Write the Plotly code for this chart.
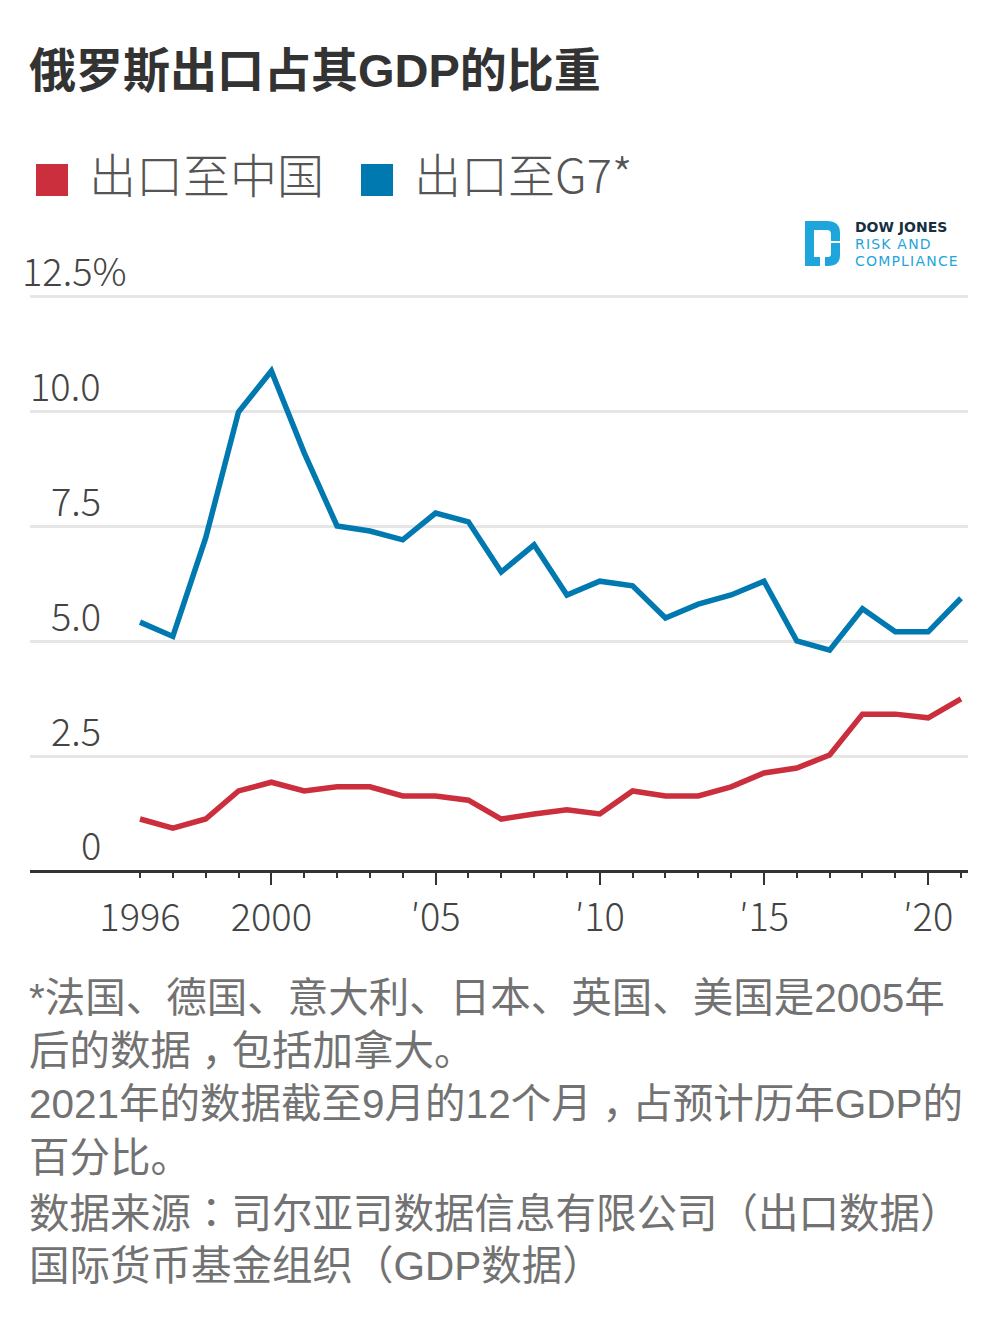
import plotly.graph_objects as go

WIDTH = 999
HEIGHT = 1330

years = list(range(1996, 2022))
china = [1.13, 0.93, 1.13, 1.74, 1.93, 1.74, 1.83, 1.83, 1.63, 1.63, 1.54, 1.13, 1.24,
         1.33, 1.24, 1.74, 1.63, 1.63, 1.83, 2.13, 2.24, 2.52, 3.41, 3.41, 3.33, 3.74]
g7 = [5.41, 5.1, 7.24, 9.98, 10.87, 9.09, 7.5, 7.39, 7.2, 7.78, 7.59, 6.5, 7.09,
      6.0, 6.3, 6.2, 5.5, 5.8, 6.0, 6.3, 5.0, 4.8, 5.7, 5.2, 5.2, 5.93]

y_ticks = [2.5, 5, 7.5, 10, 12.5]
y_labels = ['2.5', '5.0', '7.5', '10.0', '12.5%']
x_labels = {1996: '1996', 2000: '2000', 2005: "\u203205", 2010: "\u203210", 2015: "\u203215", 2020: "\u203220"}
long_ticks = [2000, 2005, 2010, 2015, 2020]

title = '俄罗斯出口占其GDP的比重'
legend_names = ['出口至中国', '出口至G7*']
footnotes = [
    '*法国、德国、意大利、日本、英国、美国是2005年',
    '后的数据，包括加拿大。',
    '2021年的数据截至9月的12个月，占预计历年GDP的',
    '百分比。',
    '数据来源：司尔亚司数据信息有限公司（出口数据）',
    '国际货币基金组织（GDP数据）',
]
footnote_y = [998, 1051, 1104, 1158, 1213, 1266]

RED = '#cb2f3d'
BLUE = '#0079b0'
CJK = 'Liberation Sans, Noto Sans CJK SC, sans-serif'
LIGHT = 'Noto Sans CJK SC, sans-serif'
LOGO = 'DejaVu Sans, sans-serif'


def px_x(x):
    return x / WIDTH


def px_y(y):
    return 1 - y / HEIGHT


def label(text, x, y, size, color, anchor='left', family=CJK, weight=None):
    font = dict(family=family, size=size, color=color)
    if weight:
        font['weight'] = weight
    return dict(text=text, x=px_x(x), y=px_y(y), xref='paper', yref='paper', xanchor=anchor,
                yanchor='middle', showarrow=False, font=font)


def logo_path(points):
    return ' '.join(f'{c} {px_x(x):.5f},{px_y(y):.5f}' if c != 'Q' else
                    f'Q {px_x(x[0]):.5f},{px_y(x[1]):.5f} {px_x(y[0]):.5f},{px_y(y[1]):.5f}'
                    for c, x, y in points) + ' Z'


def centred_punct(text):
    # the reference has these two marks in the middle of their cell, the comma sits low
    text = text.replace('，', '<span style="font-family:\'Noto Sans CJK TC\';baseline-shift:-0.3em">，</span>')
    text = text.replace('：', '<span style="font-family:\'Noto Sans CJK TC\'">：</span>')
    return text


fig = go.Figure()
fig.add_trace(go.Scatter(x=years, y=china, mode='lines', name=legend_names[0],
                         line=dict(color=RED, width=5.5, shape='linear')))
fig.add_trace(go.Scatter(x=years, y=g7, mode='lines', name=legend_names[1],
                         line=dict(color=BLUE, width=5.5, shape='linear')))

annotations = [label(title, 27, 71, 47, '#333333', weight='bold')]
annotations.append(label(legend_names[0], 87, 172, 47, '#555555', family=LIGHT, weight=300))
annotations.append(label(legend_names[1], 412, 172, 47, '#555555', family=LIGHT, weight=300))

# x range set so that 1996 lands at 140px and 2021 at 961px inside the 30-968 plot area
px_per_year = (961 - 140) / 25
x_min = 1996 - (140 - 30) / px_per_year
x_max = 2021 + (968 - 961) / px_per_year

# y scale is 46px per unit with zero at 871px; top of range goes past 12.5 so its gridline shows
px_per_unit = 46
plot_bottom = 869.5
y_min = (871 - plot_bottom) / px_per_unit
y_max = 13

# y labels sit on top of the gridlines
for v, t in zip(y_ticks + [0], y_labels + ['0']):
    annotations.append(dict(text=t, x=px_x(129 if '%' in t else 103), y=max(v, y_min), xref='paper', yref='y',
                            xanchor='right', yanchor='bottom', yshift=-3, showarrow=False,
                            font=dict(family=LIGHT, size=38, color='#444444', weight=300)))

spaced = '<span style="letter-spacing:1.2px">%s</span>'
annotations.append(label('DOW JONES', 853, 227, 14, '#16303f', family=LOGO, weight='bold'))
annotations.append(label(spaced % 'RISK AND', 853, 244, 14, '#1ea5dc', family=LOGO))
annotations.append(label(spaced % 'COMPLIANCE', 853, 261, 14, '#1ea5dc', family=LOGO))

for line, y in zip(footnotes, footnote_y):
    # the spans change the line box, so those lines need nudging back to their place
    if '，' in line:
        y += 7
    elif '：' in line:
        y -= 3
    annotations.append(label(centred_punct(line), 27, y, 40.5, '#727272'))

shapes = [
    dict(type='rect', xref='paper', yref='paper', x0=px_x(36), x1=px_x(68), y0=px_y(196), y1=px_y(164),
         fillcolor=RED, line_width=0),
    dict(type='rect', xref='paper', yref='paper', x0=px_x(361), x1=px_x(393), y0=px_y(196), y1=px_y(164),
         fillcolor=BLUE, line_width=0),
    dict(type='path', xref='paper', yref='paper', fillcolor='#1ea5dc', line_width=0, path=logo_path([
        ('M', 805, 221), ('L', 827, 221), ('Q', (840, 221), (840, 233)), ('L', 840, 241), ('L', 831, 241),
        ('L', 831, 234), ('Q', (831, 230), (827, 230)), ('L', 814, 230), ('L', 814, 257), ('L', 820, 257),
        ('L', 820, 266), ('L', 805, 266)])),
    dict(type='path', xref='paper', yref='paper', fillcolor='#1ea5dc', line_width=0, path=logo_path([
        ('M', 831, 243), ('L', 840, 243), ('L', 840, 255), ('Q', (840, 266), (828, 266)), ('L', 825, 266),
        ('L', 825, 257), ('L', 828, 257), ('Q', (831, 257), (831, 254))])),
]

fig.update_xaxes(domain=[px_x(30), px_x(968)], range=[x_min, x_max],
                 tickmode='array', tickvals=years,
                 ticktext=[x_labels.get(y, '') for y in years],
                 ticks='outside', ticklen=5, tickwidth=2, tickcolor='#333333',
                 tickfont=dict(family=LIGHT, size=38, color='#444444', weight=300),
                 ticklabelstandoff=8,
                 minor=dict(tickmode='array', tickvals=long_ticks, ticks='outside', ticklen=12, tickwidth=2,
                            tickcolor='#333333'),
                 showline=True, linecolor='#333333', linewidth=3, showgrid=False, zeroline=False)
fig.update_yaxes(domain=[px_y(plot_bottom), px_y(871 - y_max * px_per_unit)], range=[y_min, y_max],
                 tickmode='array', tickvals=y_ticks,
                 showticklabels=False, showgrid=True, gridcolor='#e6e6e6', gridwidth=3, zeroline=False)
fig.update_layout(width=WIDTH, height=HEIGHT, autosize=False, showlegend=False,
                  margin=dict(l=0, r=0, t=0, b=0), plot_bgcolor='white', paper_bgcolor='white',
                  annotations=annotations, shapes=shapes)
fig.write_html("out.html", config=dict(displayModeBar=False), post_script="document.body.style.margin='0';")
